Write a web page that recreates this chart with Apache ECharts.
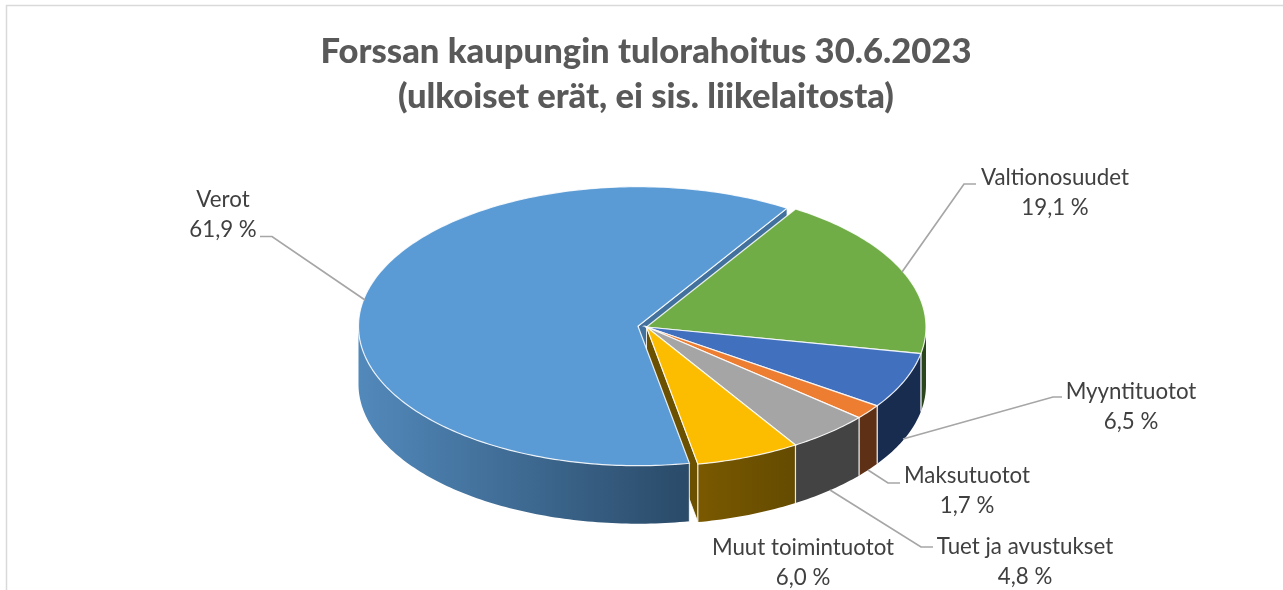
<!DOCTYPE html>
<html><head><meta charset="utf-8">
<style>html,body{margin:0;padding:0;background:#fff}#c{width:1283px;height:590px}</style>
<script src="https://cdn.jsdelivr.net/npm/echarts@6/dist/echarts.min.js"></script>
</head><body><div id="c"></div>
<script>
const categories = ['Verot','Valtionosuudet','Myyntituotot','Maksutuotot','Tuet ja avustukset','Muut toimintuotot'];
const shares = [61.9,19.1,6.5,1.7,4.8,6.0];
const titleLines = ['Forssan kaupungin tulorahoitus 30.6.2023','(ulkoiset erät, ei sis. liikelaitosta)'];

const explode = [0.031,0,0,0,0,0];
const topColors = ['#5b9bd5','#70ad47','#4170bf','#ed7d31','#a5a5a5','#fcbc00'];
const sideColors = [['#5289bb','#2a4a68'],['#2b451c','#2b451c'],['#182c50','#182c50'],['#5e3116','#5e3116'],['#434343','#434343'],['#7a5900','#644b00']];
const faceColors = ['#41719c',null,null,null,null,'#6b5000'];
const labelPos = [[223,200],[1055,178],[1131,392],[967,476],[1025,547],[803,548]];
const leaders = [
  [[260,236.5],[272,236.5],[365,300]],
  [[976,184],[964,184],[902,272]],
  [[1062,397],[1053,397],[903,439]],
  [[900,483],[888,483],[868,470]],
  [[933,547],[921,547],[830,490]],
  null
];
const CX=646.5, CY=327, RX=279.5, RY=139.5, DEPTH=58, START=169.4;
const rad=d=>d*Math.PI/180;
const total=shares.reduce((a,b)=>a+b,0);
const starts=[]; shares.reduce((a,v,i)=>{starts[i]=a;return a+v/total*360;},START);

function renderItem(params, api){
  const i=api.value(0), share=api.value(1);
  const a0=starts[i], a1=a0+share/total*360, mid=(a0+a1)/2;
  const cx=CX+RX*explode[i]*Math.sin(rad(mid)), cy=CY-RY*explode[i]*Math.cos(rad(mid));
  const pt=(t,d=0)=>[cx+RX*Math.sin(rad(t)), cy-RY*Math.cos(rad(t))+d];
  const arc=(s,e,d=0)=>{const o=[];const n=Math.max(2,Math.ceil(e-s));for(let k=0;k<=n;k++)o.push(pt(s+(e-s)*k/n,d));return o;};
  const base=i===0?2:4, kids=[];
  const light='rgba(255,255,255,0.85)';
  if(faceColors[i]){
    const r=pt(a1);
    kids.push({type:'polygon',z2:i===0?0:1,silent:true,shape:{points:[[cx,cy],r,[r[0],r[1]+DEPTH],[cx,cy+DEPTH]]},style:{fill:faceColors[i],stroke:light,lineWidth:1}});
  }
  for(const off of [0,360]){
    const s=Math.max(a0,90+off), e=Math.min(a1,270+off);
    if(e>s){
      const t=arc(s,e), b=arc(s,e,DEPTH).reverse();
      kids.push({type:'polygon',z2:base,silent:true,shape:{points:t.concat(b)},style:{
        fill:{type:'linear',x:0,y:0,x2:1,y2:0,colorStops:[{offset:0,color:sideColors[i][0]},{offset:1,color:sideColors[i][1]}]}
      }});
      [s,e].forEach(v=>{ if(v>90+off&&v<270+off){const p=pt(v);kids.push({type:'line',z2:base,silent:true,shape:{x1:p[0],y1:p[1],x2:p[0],y2:p[1]+DEPTH},style:{stroke:'rgba(255,255,255,0.75)',lineWidth:1.2}});}});
    }
  }
  kids.push({type:'polygon',z2:base+1,silent:true,shape:{points:[[cx,cy]].concat(arc(a0,a1))},style:{fill:topColors[i],stroke:light,lineWidth:1.2}});
  if(leaders[i]) kids.push({type:'polyline',z2:8,silent:true,shape:{points:leaders[i]},style:{stroke:'#a6a6a6',lineWidth:1.7,fill:null}});
  const txt=share.toFixed(1).replace('.',',')+' %';
  [categories[i],txt].forEach((s,k)=>kids.push({type:'text',z2:9,silent:true,x:labelPos[i][0],y:labelPos[i][1]+k*29.5,style:{text:s,align:'center',verticalAlign:'middle',fill:'#404040',fontFamily:'Lato',fontSize:22.3}}));
  return {type:'group',children:kids};
}
const chart=echarts.init(document.getElementById('c'),null,{renderer:'canvas'});
chart.setOption({
  animation:false,
  backgroundColor:'#fff',
  graphic:[{type:'polyline',silent:true,shape:{points:[[6.5,590],[6.5,5.5],[1283,5.5]]},style:{fill:null,stroke:'#d9d9d9',lineWidth:1.5}}],
  title:{text:titleLines.join('\n'),left:641,top:24,textAlign:'center',textStyle:{fontFamily:'Lato',fontWeight:900,fontSize:34.6,lineHeight:45,color:'#595959'}},
  series:[{type:'custom',coordinateSystem:'none',renderItem,data:shares.map((v,i)=>[i,v]),silent:true,clip:false}]
});
</script></body></html>
